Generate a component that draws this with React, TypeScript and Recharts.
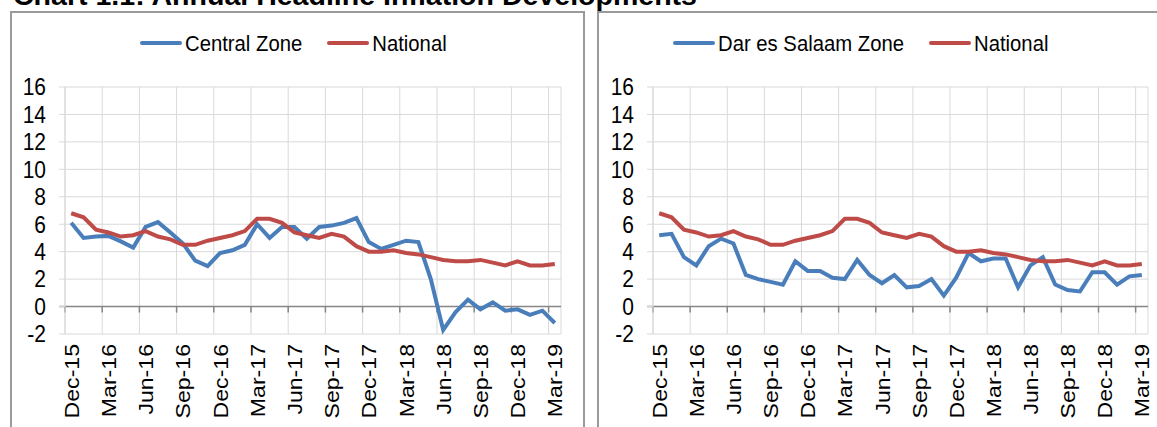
import React from "react";
import { LineChart, Line, XAxis, YAxis, CartesianGrid, ReferenceLine } from "recharts";

const months = [
  "Dec-15", "Jan-16", "Feb-16", "Mar-16", "Apr-16", "May-16", "Jun-16", "Jul-16", "Aug-16", "Sep-16",
  "Oct-16", "Nov-16", "Dec-16", "Jan-17", "Feb-17", "Mar-17", "Apr-17", "May-17", "Jun-17", "Jul-17",
  "Aug-17", "Sep-17", "Oct-17", "Nov-17", "Dec-17", "Jan-18", "Feb-18", "Mar-18", "Apr-18", "May-18",
  "Jun-18", "Jul-18", "Aug-18", "Sep-18", "Oct-18", "Nov-18", "Dec-18", "Jan-19", "Feb-19", "Mar-19",
];

const national = [
  6.8, 6.5, 5.6, 5.4, 5.1, 5.2, 5.5, 5.1, 4.9, 4.5,
  4.5, 4.8, 5.0, 5.2, 5.5, 6.4, 6.4, 6.1, 5.4, 5.2,
  5.0, 5.3, 5.1, 4.4, 4.0, 4.0, 4.1, 3.9, 3.8, 3.6,
  3.4, 3.3, 3.3, 3.4, 3.2, 3.0, 3.3, 3.0, 3.0, 3.1,
];

const centralZone = [
  6.1, 5.0, 5.1, 5.15, 4.75, 4.3, 5.8, 6.15, 5.4, 4.6,
  3.35, 2.95, 3.9, 4.1, 4.5, 6.0, 5.0, 5.8, 5.8, 4.95,
  5.8, 5.9, 6.1, 6.45, 4.7, 4.2, 4.5, 4.8, 4.7, 2.0,
  -1.7, -0.4, 0.5, -0.2, 0.3, -0.3, -0.2, -0.6, -0.3, -1.2,
];

const darZone = [
  5.2, 5.3, 3.6, 3.0, 4.4, 4.95, 4.6, 2.3, 2.0, 1.8,
  1.6, 3.3, 2.6, 2.6, 2.1, 2.0, 3.4, 2.3, 1.7, 2.3,
  1.4, 1.5, 2.0, 0.8, 2.1, 3.9, 3.3, 3.5, 3.5, 1.4,
  3.0, 3.6, 1.6, 1.2, 1.1, 2.5, 2.5, 1.6, 2.2, 2.3,
];

const yTicks = [-2, 0, 2, 4, 6, 8, 10, 12, 14, 16];

const TITLE = "Chart 1.1: Annual Headline Inflation Developments";
const BLUE = "#4a7ebb";
const RED = "#be4b48";
const GRID = "#d9d9d9";
const FONT = '"Liberation Sans", Arial, sans-serif';
const STEP = 3; // label / gridline every 3 months
const STRETCH = 1.1; // source text is a little taller than wide

const labelTicks = months.map((_, i) => i).filter((i) => i % STEP === 0);

const XTick = ({ x, y, payload }: any) => (
  <g transform={`translate(${x},${y})`}>
    <text transform={`rotate(-90) scale(${STRETCH},1)`} textAnchor="end" dy="0.36em" fontSize={21} fontFamily={FONT} fill="#000">
      {months[payload.value]}
    </text>
  </g>
);

const YTick = ({ x, y, payload }: any) => (
  <g transform={`translate(${x},${y}) scale(1,${STRETCH})`}>
    <text dy="0.36em" textAnchor="end" fontSize={21} fontFamily={FONT} fill="#000">
      {payload.value}
    </text>
  </g>
);

// zero line with the category tick marks hanging below it
const ZeroAxis = (props: any) => {
  const { x1, x2, y1 } = props;
  const n = months.length;
  const marks: number[] = [];
  for (let b = 0; b < n; b += STEP) marks.push(x1 + ((x2 - x1) * b) / n);
  return (
    <g>
      <line x1={x1 - 6} x2={x2} y1={y1} y2={y1} stroke="#868686" strokeWidth={1.5} />
      {marks.map((mx, i) => (
        <line key={i} x1={mx} x2={mx} y1={y1} y2={y1 + 6} stroke="#868686" strokeWidth={1.5} />
      ))}
    </g>
  );
};

const boundaryLines = ({ offset }: any) => {
  const n = months.length;
  const xs: number[] = [];
  for (let b = 0; b < n; b += STEP) xs.push(offset.left + (offset.width * b) / n);
  xs.push(offset.left + offset.width);
  return xs;
};

const LegendBox = ({ left, zoneName }: { left: number; zoneName: string }) => {
  const item = (color: string, text: string, gap: number) => (
    <div style={{ display: "flex", alignItems: "center", marginRight: gap }}>
      <div style={{ width: 42, height: 4, borderRadius: 2, background: color, marginRight: 3 }} />
      <span
        style={{
          fontSize: 20.3,
          fontFamily: FONT,
          color: "#000",
          lineHeight: "24px",
          display: "inline-block",
          transform: `scaleY(${STRETCH})`,
        }}
      >
        {text}
      </span>
    </div>
  );
  return (
    <div style={{ position: "absolute", left, top: 31, display: "flex", alignItems: "center" }}>
      {item(BLUE, zoneName, 25)}
      {item(RED, "National", 0)}
    </div>
  );
};

const Panel = ({ zone, zoneName, chartLeft, width, marginRight }: any) => {
  const data = months.map((m, i) => ({ idx: i, month: m, zone: zone[i], national: national[i] }));
  return (
    <div style={{ position: "absolute", left: chartLeft, top: 0 }}>
      <LineChart width={width} height={427} data={data} margin={{ top: 87, right: marginRight, bottom: 13, left: 15 }}>
        <CartesianGrid stroke={GRID} strokeWidth={1} verticalCoordinatesGenerator={boundaryLines} />
        <XAxis
          dataKey="idx"
          type="number"
          domain={[-0.5, months.length - 0.5]}
          ticks={labelTicks}
          interval={0}
          axisLine={false}
          tickLine={false}
          tickSize={0}
          tickMargin={10}
          height={80}
          tick={<XTick />}
        />
        <YAxis
          domain={[-2, 16]}
          ticks={yTicks}
          interval={0}
          width={50}
          axisLine={{ stroke: GRID }}
          tickLine={{ stroke: GRID }}
          tickSize={6}
          tickMargin={13}
          tick={<YTick />}
        />
        <ReferenceLine y={0} shape={<ZeroAxis />} />
        <Line type="linear" dataKey="zone" name={zoneName} stroke={BLUE} strokeWidth={4} dot={false} isAnimationActive={false} />
        <Line type="linear" dataKey="national" name="National" stroke={RED} strokeWidth={4} dot={false} isAnimationActive={false} />
      </LineChart>
    </div>
  );
};

export default function App() {
  return (
    <div style={{ position: "relative", width: 1157, height: 427, overflow: "hidden", background: "#fff" }}>
      <style>{"body{margin:0}"}</style>
      <svg width={1157} height={12} style={{ position: "absolute", left: 0, top: 0 }}>
        <text x={13} y={5} fontSize={28} fontWeight="bold" fontFamily={FONT} textLength={684} lengthAdjust="spacingAndGlyphs" fill="#000">
          {TITLE}
        </text>
      </svg>
      <div style={{ position: "absolute", left: 10, top: 11, width: 571, height: 430, border: "2px solid #9a9a9a" }} />
      <div style={{ position: "absolute", left: 597, top: 11, width: 600, height: 430, border: "2px solid #9a9a9a" }} />
      <Panel zone={centralZone} zoneName="Central Zone" chartLeft={0} width={580} marginRight={19} />
      <Panel zone={darZone} zoneName="Dar es Salaam Zone" chartLeft={588} width={569} marginRight={9} />
      <LegendBox left={140} zoneName="Central Zone" />
      <LegendBox left={673} zoneName="Dar es Salaam Zone" />
    </div>
  );
}
